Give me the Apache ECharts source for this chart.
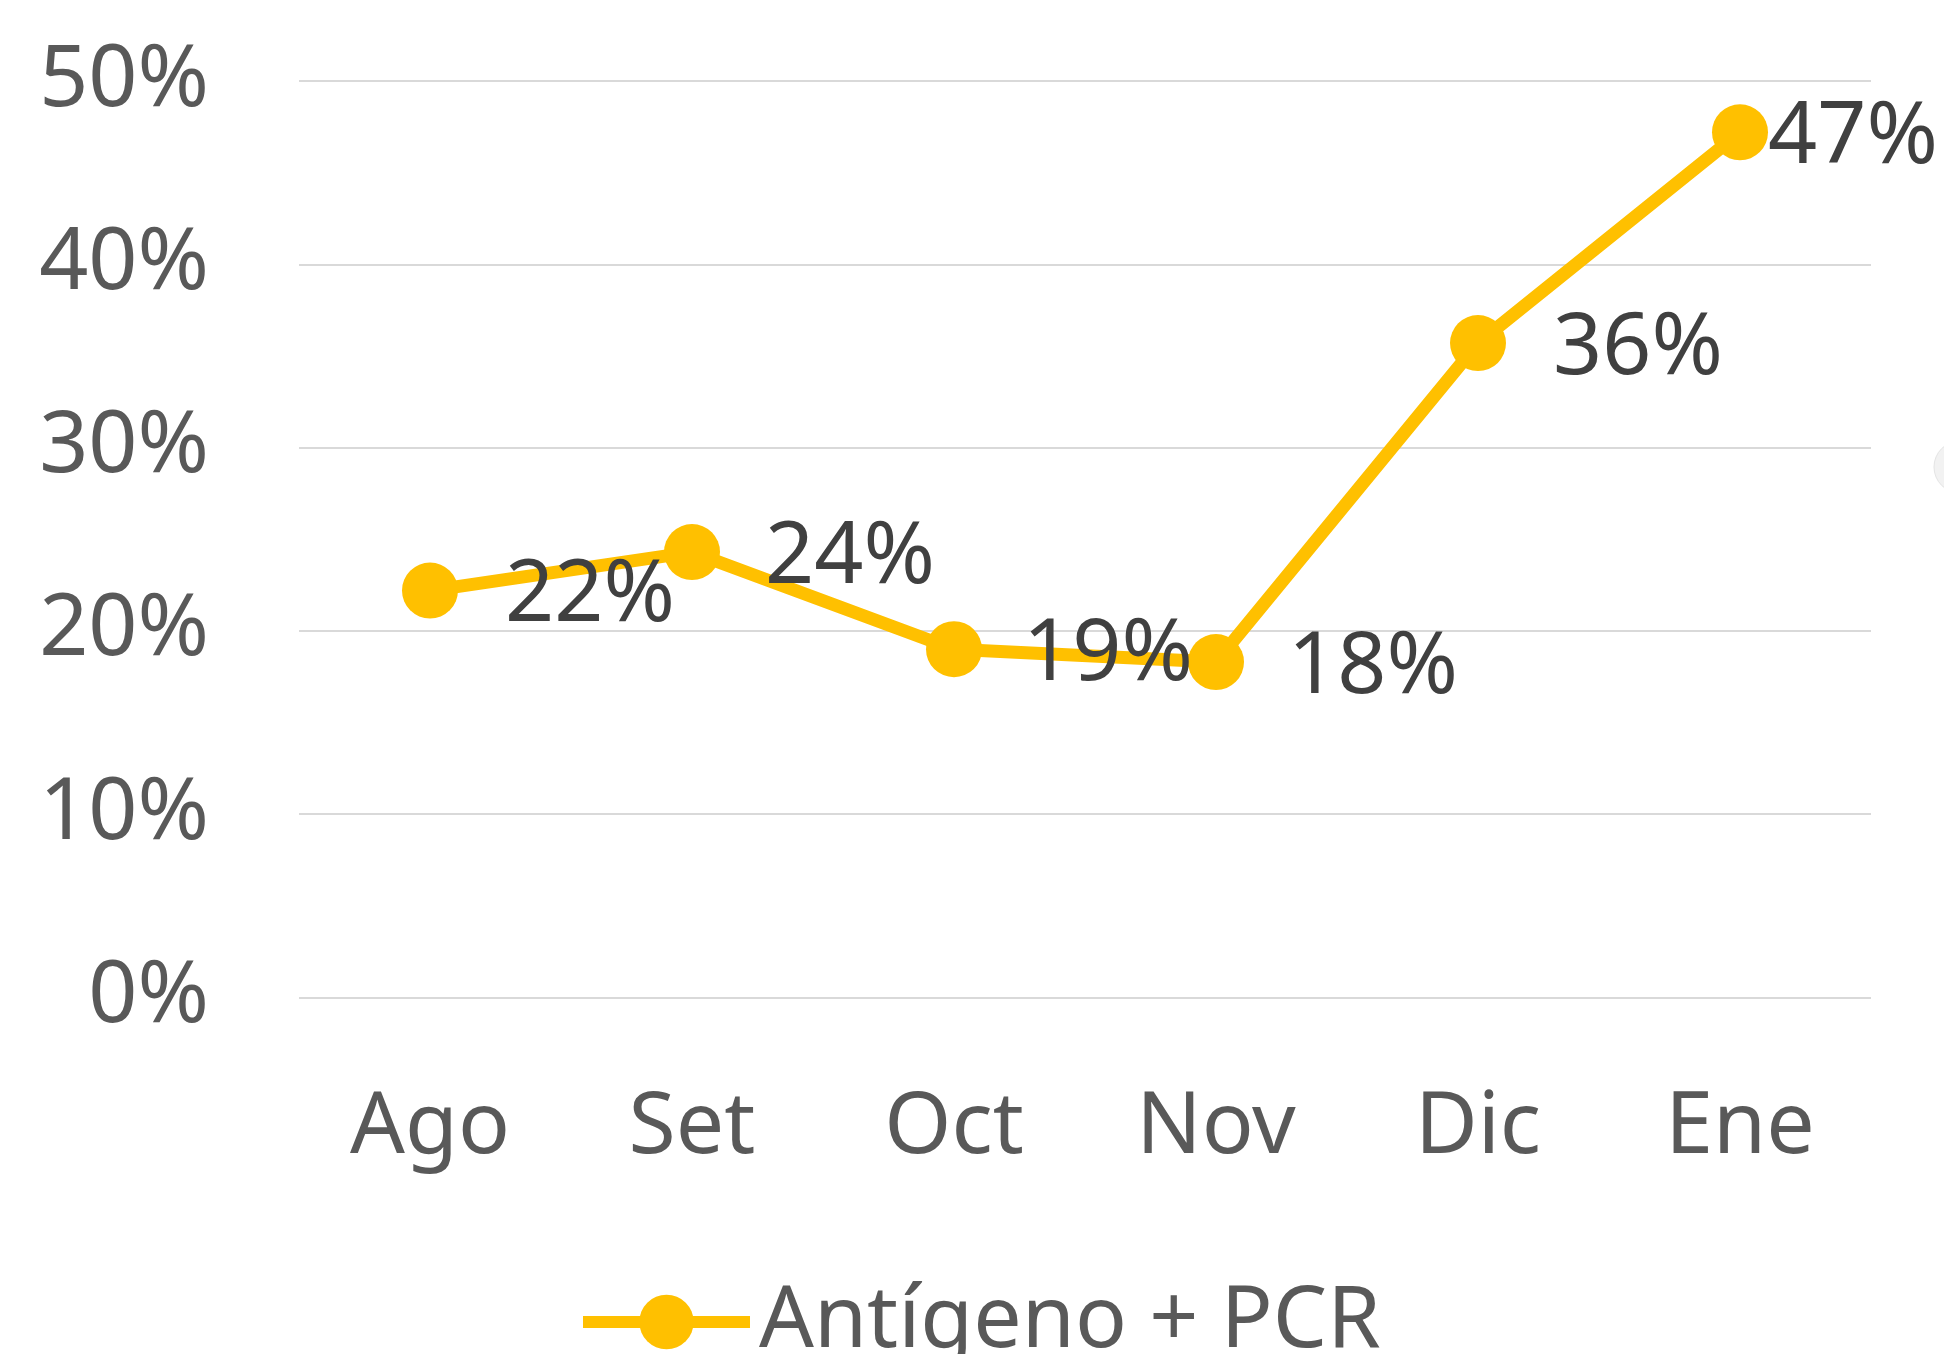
<!DOCTYPE html>
<html>
<head>
<meta charset="utf-8">
<script src="https://cdn.jsdelivr.net/npm/echarts@6/dist/echarts.min.js"></script>
<style>
html,body{margin:0;padding:0;background:#fff;}
#c{width:1944px;height:1354px;}
</style>
</head>
<body>
<div id="c"></div>
<script>
const categories = ['Ago', 'Set', 'Oct', 'Nov', 'Dic', 'Ene'];
const seriesName = 'Antígeno + PCR';
const values = [0.222, 0.243, 0.190, 0.183, 0.357, 0.472];
const labelTexts = ['22%', '24%', '19%', '18%', '36%', '47%'];
const labelGaps = [47, 45, 41, 44, 47, 0];

const FONT = 'Noto Sans';
const chart = echarts.init(document.getElementById('c'), null, {renderer: 'canvas'});
chart.setOption({
  backgroundColor: '#ffffff',
  animation: false,
  grid: {left: 299, right: 73, top: 81, bottom: 356.5, containLabel: false},
  xAxis: {
    type: 'category',
    data: categories,
    boundaryGap: true,
    axisLine: {show: false},
    axisTick: {show: false},
    axisLabel: {color: '#595959', fontSize: 86, fontFamily: FONT, margin: 88}
  },
  yAxis: {
    type: 'value',
    min: 0, max: 0.5, interval: 0.1,
    axisLine: {show: false},
    axisTick: {show: false},
    splitLine: {lineStyle: {color: '#d9d9d9', width: 2}},
    axisLabel: {
      color: '#595959', fontSize: 86, fontFamily: FONT, margin: 90,
      formatter: v => Math.round(v * 100) + '%'
    }
  },
  legend: {
    data: [seriesName],
    bottom: -16,
    left: 572,
    itemWidth: 167,
    itemHeight: 68,
    itemGap: 10,
    lineStyle: {width: 12},
    textStyle: {color: '#595959', fontSize: 86, fontFamily: FONT, padding: [0, 0, 0, 4]}
  },
  series: [{
    name: seriesName,
    type: 'line',
    data: values.map((v, i) => ({
      value: v,
      label: {distance: labelGaps[i], formatter: labelTexts[i]}
    })),
    symbol: 'circle',
    symbolSize: 56,
    itemStyle: {color: '#FFC000'},
    lineStyle: {color: '#FFC000', width: 13},
    label: {
      show: true,
      position: 'right',
      color: '#404040',
      fontSize: 86,
      fontFamily: FONT,
      offset: [0, 6]
    }
  }],
  graphic: [{
    type: 'circle',
    shape: {cx: 1960, cy: 467, r: 26},
    style: {fill: '#f2f2f2', stroke: '#e4e4e4', lineWidth: 1}
  }]
});
</script>
</body>
</html>
